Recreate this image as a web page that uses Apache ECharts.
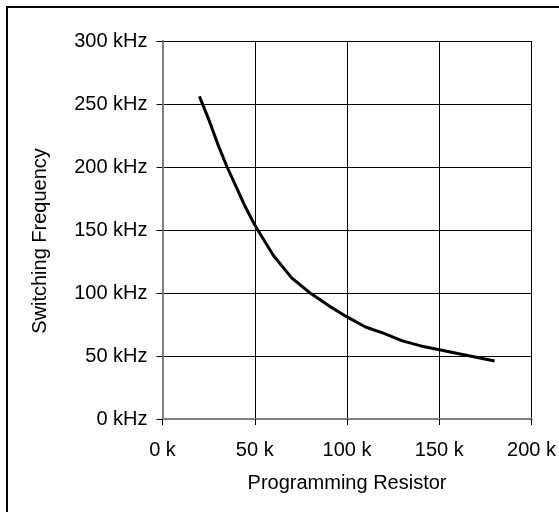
<!DOCTYPE html>
<html>
<head>
<meta charset="utf-8">
<script src="https://cdn.jsdelivr.net/npm/echarts@6/dist/echarts.min.js"></script>
<style>
html,body{margin:0;padding:0;background:#fff;}
#chart{width:559px;height:512px;}
</style>
</head>
<body>
<div id="chart"></div>
<script>
// Programming resistor (k) vs switching frequency (kHz)
var resistorK = [20, 25, 30, 35, 40, 45, 50, 60, 70, 80, 90, 100, 110, 120, 130, 140, 150, 160, 170, 180];
var freqKHz   = [256, 238, 218, 200, 184, 168, 154, 130, 112, 100, 90, 81, 73, 68, 62, 58, 55, 52, 49, 46];
var xTicks = [0, 50, 100, 150, 200];
var yTicks = [0, 50, 100, 150, 200, 250, 300];

var pts = resistorK.map(function (r, i) { return [r, freqKHz[i]]; });
var font = 'Liberation Sans, Arial, sans-serif';

var chart = echarts.init(document.getElementById('chart'), null, {renderer: 'canvas'});
chart.setOption({
  animation: false,
  backgroundColor: '#fff',
  grid: {left: 162.5, right: 26, top: 41, bottom: 93, containLabel: false},
  graphic: [{
    type: 'rect', z: 100, silent: true,
    shape: {x: 7, y: 7, width: 1000, height: 1000},
    style: {fill: 'none', stroke: '#000', lineWidth: 2}
  }],
  xAxis: [{
    type: 'value', min: xTicks[0], max: xTicks[xTicks.length - 1], interval: 50,
    name: 'Programming Resistor', nameLocation: 'middle', nameGap: 54,
    nameTextStyle: {fontFamily: font, fontSize: 20, color: '#000'},
    axisLine: {show: true, onZero: false, lineStyle: {color: '#000', width: 1}},
    axisTick: {show: true, length: 6, lineStyle: {color: '#000'}},
    axisLabel: {fontFamily: font, fontSize: 20, color: '#000', margin: 21,
      formatter: function (v) { return v + ' k'; }},
    splitLine: {show: true, lineStyle: {color: '#000', width: 1}}
  }, {
    type: 'value', position: 'top', min: xTicks[0], max: xTicks[xTicks.length - 1],
    axisLine: {show: true, lineStyle: {color: '#808080', width: 2}},
    axisTick: {show: false}, axisLabel: {show: false}, splitLine: {show: false}
  }],
  yAxis: [{
    type: 'value', min: yTicks[0], max: yTicks[yTicks.length - 1], interval: 50,
    name: 'Switching Frequency', nameLocation: 'middle', nameGap: 112, nameRotate: 90,
    nameTextStyle: {fontFamily: font, fontSize: 20, color: '#000', padding: [0, 22, 0, 0]},
    axisLine: {show: true, onZero: false, lineStyle: {color: '#000', width: 1}},
    axisTick: {show: true, length: 6, lineStyle: {color: '#000'}},
    axisLabel: {fontFamily: font, fontSize: 20, color: '#000', margin: 15,
      formatter: function (v) { return v + ' kHz'; }},
    splitLine: {show: true, lineStyle: {color: '#000', width: 1}}
  }, {
    type: 'value', position: 'right', min: yTicks[0], max: yTicks[yTicks.length - 1],
    axisLine: {show: true, lineStyle: {color: '#808080', width: 2}},
    axisTick: {show: false}, axisLabel: {show: false}, splitLine: {show: false}
  }],
  series: [{
    type: 'line', data: pts, showSymbol: false, symbol: 'none', smooth: false,
    lineStyle: {color: '#000', width: 3}, z: 10
  }]
});
</script>
</body>
</html>
